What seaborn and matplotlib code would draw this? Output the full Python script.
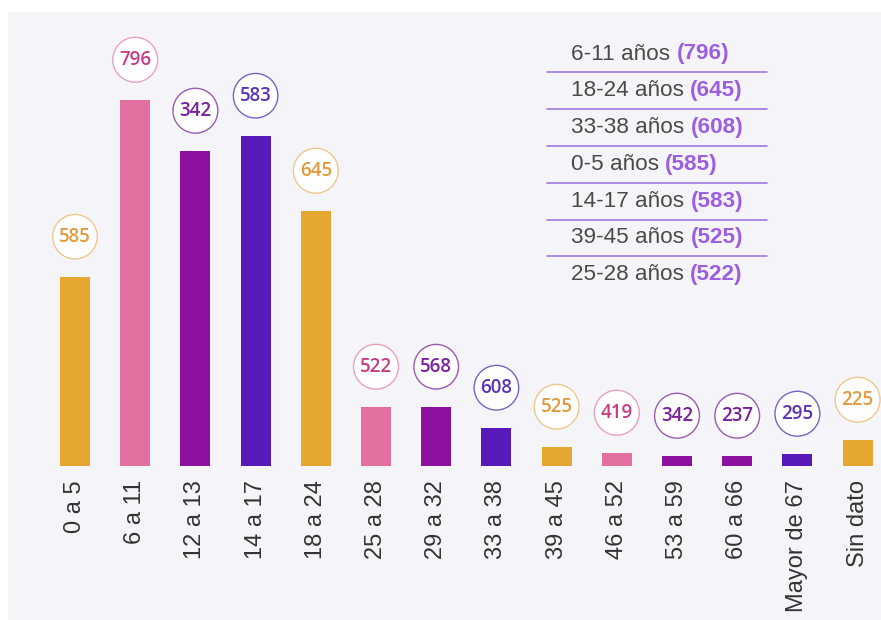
import matplotlib
matplotlib.use("Agg")
import matplotlib.pyplot as plt
import seaborn as sns
import pandas as pd
from matplotlib.patches import Rectangle
from matplotlib.lines import Line2D

# data
categories = ["0 a 5", "6 a 11", "12 a 13", "14 a 17", "18 a 24", "25 a 28", "29 a 32",
              "33 a 38", "39 a 45", "46 a 52", "53 a 59", "60 a 66", "Mayor de 67", "Sin dato"]
bar_heights = [189, 366, 315, 330, 255, 59, 59, 38, 19, 13, 10, 10, 12, 26]
label_values = [585, 796, 342, 583, 645, 522, 568, 608, 525, 419, 342, 237, 295, 225]
color_groups = ["orange", "pink", "purple", "indigo", "orange", "pink", "purple",
                "indigo", "orange", "pink", "purple", "purple", "indigo", "orange"]

legend_labels = ["6-11 años", "18-24 años", "33-38 años", "0-5 años",
                 "14-17 años", "39-45 años", "25-28 años"]
legend_values = [796, 645, 608, 585, 583, 525, 522]

bar_colors = {"orange": "#E6A731", "pink": "#E26FA0", "purple": "#8C119E", "indigo": "#5719B7"}
text_colors = {"orange": "#E39A3E", "pink": "#C93C84", "purple": "#7A1F9E", "indigo": "#5B33B4"}
edge_colors = {"orange": "#EDC88E", "pink": "#E9A0C0", "purple": "#9A5AB0", "indigo": "#7B62C4"}

W, H = 881, 620
BG = "#F5F5F9"

sns.set_theme(style="white")
plt.rcParams["font.family"] = ["Liberation Sans", "DejaVu Sans"]

fig = plt.figure(figsize=(W / 100, H / 100), dpi=100, facecolor="white")
fig.add_artist(Rectangle((8 / W, 0), 1 - 8 / W, 1 - 12 / H, transform=fig.transFigure,
                         facecolor=BG, edgecolor="none", zorder=0))

# axes: bar centres 75 + 60.2*i px, baseline at y=466 px
ax = fig.add_axes([8 / W, (H - 466) / H, (W - 8) / W, (466 - 12) / H])
ax.set_facecolor("none")

df = pd.DataFrame({"cat": categories, "h": bar_heights, "grp": color_groups})
sns.barplot(data=df, x="cat", y="h", hue="cat", dodge=False, legend=False,
            palette=[bar_colors[g] for g in color_groups], width=0.5,
            saturation=1, linewidth=0, edgecolor="none", ax=ax)

step = 60.2
ax.set_xlim(-(75 - 8) / step, (W - 75) / step)
ax.set_ylim(0, 466 - 12)
for s in ax.spines.values():
    s.set_visible(False)
ax.set_yticks([])
ax.set_xlabel("")
ax.set_ylabel("")
ax.tick_params(axis="x", length=0, pad=10, labelsize=17, labelcolor="#333333", rotation=90)

# circled value labels above bars
for i, (h, v, g) in enumerate(zip(bar_heights, label_values, color_groups)):
    ax.annotate(str(v), xy=(i, h), xytext=(0, 29), textcoords="offset points",
                ha="center", va="center", fontsize=13.5, fontweight="semibold",
                family=["Open Sans", "DejaVu Sans"], color=text_colors[g],
                bbox=dict(boxstyle="circle,pad=0.34", facecolor="white",
                          edgecolor=edge_colors[g], linewidth=1.0))

# ranking list on the right
row_y0, row_step = 54, 36.8
for k, (lab, val) in enumerate(zip(legend_labels, legend_values)):
    y = 1 - (row_y0 + k * row_step) / H
    t = fig.text(571 / W, y, lab + " ", ha="left", va="center", fontsize=16.2, color="#4A4A4A")
    ax.annotate(f"({val})", xy=(1, 0.5), xycoords=t, ha="left", va="center",
                fontsize=16.2, fontweight="bold", color="#9B5FE0")
    if k < len(legend_labels) - 1:
        ly = 1 - (row_y0 + k * row_step + row_step / 2) / H
        fig.add_artist(Line2D([547 / W, 767 / W], [ly, ly], transform=fig.transFigure,
                              color="#9E78E0", linewidth=1.2))

fig.savefig("out.png", dpi=100, facecolor="white")
